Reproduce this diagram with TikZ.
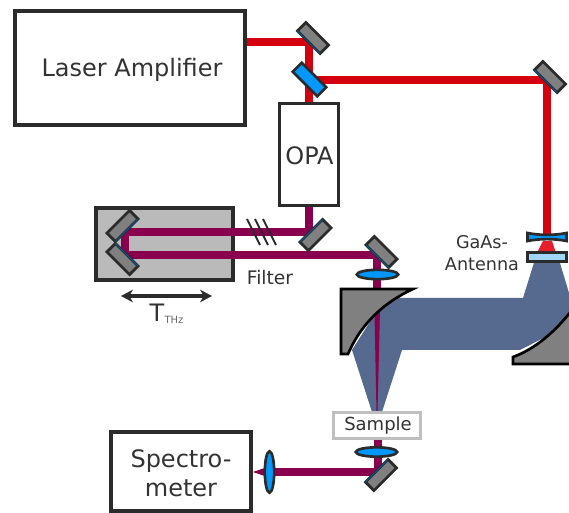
\documentclass[tikz,border=0pt]{standalone}
\usepackage{fontspec}
\setmainfont{DejaVu Sans}
\usetikzlibrary{shapes.geometric,arrows.meta}
\definecolor{darkline}{HTML}{2B2B2B}
\definecolor{labeltext}{HTML}{333333}
\definecolor{pumpred}{HTML}{D40010}
\definecolor{antennared}{HTML}{E3202C}
\definecolor{probepurple}{HTML}{89004F}
\definecolor{thzblue}{HTML}{566A8F}
\definecolor{optblue}{HTML}{0098FF}
\definecolor{windowblue}{HTML}{9FD6F5}
\definecolor{mirrorgray}{HTML}{808080}
\begin{document}
\begin{tikzpicture}[x=0.75pt,y=-0.75pt]
\tikzset{
  box/.style={draw=darkline,line width=3pt,fill=white,inner sep=0pt},
  mirror/.style={draw=darkline,line width=2pt,fill=mirrorgray,minimum width=24pt,minimum height=9pt,inner sep=0pt,outer sep=0pt},
  splitter/.style={mirror,fill=optblue,minimum width=26pt,minimum height=9.5pt},
  lens/.style={ellipse,draw=darkline,line width=2pt,fill=optblue,minimum width=31pt,minimum height=7pt,inner sep=0pt},
  beam/.style={line width=6.4pt,miter limit=4},
  parabola/.style={draw=black,line width=2pt,fill=mirrorgray,line join=miter},
  label/.style={text=labeltext,inner sep=0pt,font=\fontsize{#1}{#1}\selectfont},
  label/.default=12,
}
\useasboundingbox (0,0) rectangle (569,513);
% THz beam
\fill[thzblue] (537,253)--(523,298)--(385,298)--(352,350)--(372,412)--(382,412)--(402,350)--(520,350)--(569,325)--(569,293)--(557,253)--cycle;
\fill[probepurple] (374,289)--(380.5,289)--(377.5,412)--(376.5,412)--cycle;
\fill[antennared] (543,241)--(552,241)--(556,253)--(537,253)--cycle;
% beam corners
\coordinate (laserout) at (246,42);
\coordinate (c1) at (309,42);
\coordinate (opain) at (309,103);
\coordinate (c2) at (309,80);
\coordinate (c3) at (547,80);
\coordinate (antin) at (547,234);
\coordinate (opaout) at (309,207);
\coordinate (c4) at (309,232);
\coordinate (c5) at (125,232);
\coordinate (c6) at (125,255);
\coordinate (c7) at (377,255);
\coordinate (c8) at (377,292);
\coordinate (c9) at (378,438);
\coordinate (c10) at (378,472);
\coordinate (c11) at (266,472);
\coordinate (spec) at (253,472);
% delay stage
\node[box,fill=black!27,minimum width=103pt,minimum height=54.5pt] (stage) at (164.5,244) {};
% beams
\draw[beam,pumpred] (laserout)--(c1)--(opain);
\draw[beam,pumpred] (c2)--(c3)--(antin);
\draw[beam,probepurple] (opaout)--(c4)--(c5)--(c6)--(c7)--(c8);
\draw[beam,probepurple] (c9)--(c10)--(c11);
\fill[probepurple] (spec)--(266,467.5)--(266,476.5)--cycle;
% off-axis mirrors
\draw[parabola] (341,289)--(413,289) .. controls (385,302) and (362,322) .. (348,354)--(341,354)--cycle;
\draw[parabola] (513,357) .. controls (535,349) and (555,332) .. (572,310)--(572,364)--(513,364)--cycle;
% boxes
\node[box,minimum width=172.5pt,minimum height=85.5pt] (laser) at (130,68) {};
\node[box,line width=2.5pt,minimum width=44pt,minimum height=76.3pt] (opa) at (309,154.5) {};
\node[box,minimum width=105pt,minimum height=59pt] (spectrometer) at (181,471.5) {};
\node[box,draw=black!25,line width=2.5pt,minimum width=65pt,minimum height=19.3pt] (sample) at (377,425.5) {};
% plane mirrors
\foreach \name/\x/\y/\ang in {mirrorA/313/38/-45,mirrorB/550/77/-45,mirrorC/315.5/235/225,mirrorD/381.5/252/-45,mirrorE/122.5/226/45,mirrorF/122.5/259/135,mirrorG/381/475/225}{
  \node[mirror,rotate=\ang] (\name) at (\x,\y) {};
  \draw[optblue!60!black,line width=0.6pt] (\name.south west)--(\name.south east);
}
\node[splitter,rotate=-45] (split) at (309.5,79.5) {};
% lenses
\node[lens] (lensA) at (377.5,274.5) {};
\node[lens] (lensB) at (376.5,452) {};
\node[lens,rotate=90] (lensC) at (269.5,472) {};
% antenna
\draw[darkline,line width=2pt,fill=optblue] (527.5,233) .. controls (540,235.5) and (554,235.5) .. (566.5,233)--(566.5,241) .. controls (554,238.5) and (540,238.5) .. (527.5,241)--cycle;
\node[mirror,fill=windowblue,minimum width=29pt,minimum height=6.5pt] (antenna) at (547,257) {};
% filter
\foreach \dx in {0,8,16}{
  \draw[darkline,line width=1.5pt] (247+\dx,219)--(260+\dx,245);
}
% translation arrow
\coordinate (stageL) at (121,296);
\coordinate (stageR) at (212,296);
\draw[{Stealth[length=9pt,width=9.5pt]}-{Stealth[length=9pt,width=9.5pt]},darkline,line width=2.6pt] (stageL)--(stageR);
% labels
\node[label=18] (laserlabel) at (132,70) {Laser Amplifier};
\node[label=18] (opalabel) at (309.5,156) {OPA};
\node[label=18] (spectrolabel) at (181,461) {Spectro-};
\node[label=18] (meterlabel) at (181,488) {meter};
\node[label=13.5] (samplelabel) at (378,426) {Sample};
\node[label=14] (filterlabel) at (270,278) {Filter};
\node[label=13.2] (gaaslabel) at (482,242) {GaAs-};
\node[label=13.2] (antennalabel) at (482,264) {Antenna};
\node[label=18] (tlabel) at (157,313) {T};
\node[label=7.5,text=black!60] (thzlabel) at (174,320) {THz};
\end{tikzpicture}
\end{document}
